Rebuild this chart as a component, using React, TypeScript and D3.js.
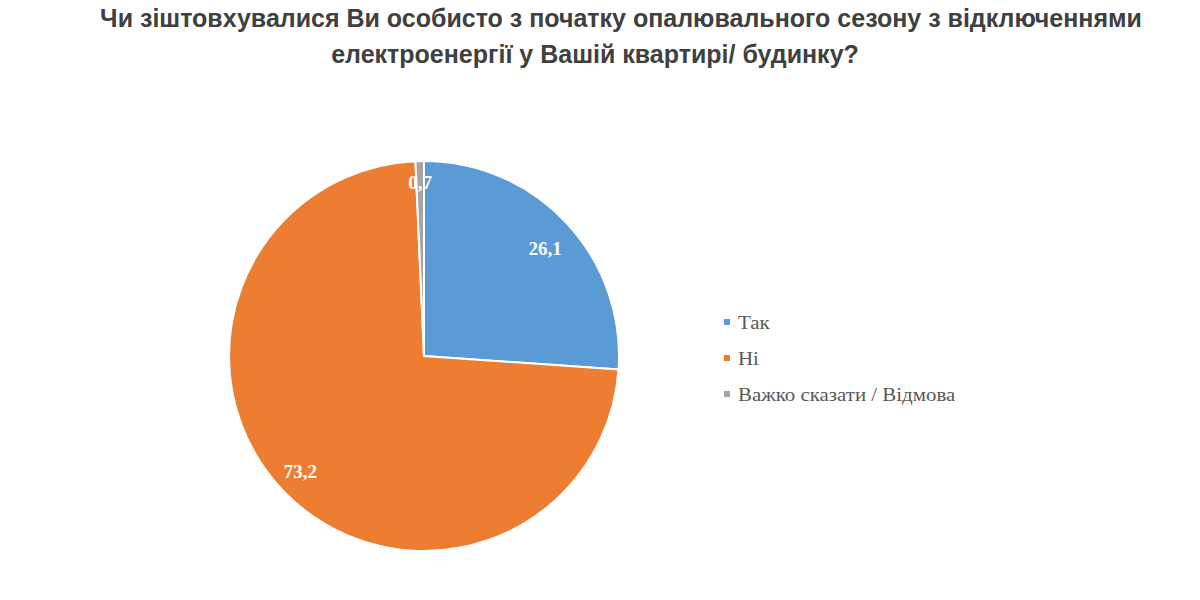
import { useEffect, useRef } from 'react';
import * as d3 from 'd3';

const titleLines = [
  'Чи зіштовхувалися Ви особисто з початку опалювального сезону з відключеннями',
  'електроенергії у Вашій квартирі/ будинку?',
];
const categories = ['Так', 'Ні', 'Важко сказати / Відмова'];
const values = [26.1, 73.2, 0.7];
const colors = ['#5b9bd5', '#ed7d31', '#a5a5a5'];

export default function App() {
  const svgRef = useRef<SVGSVGElement | null>(null);

  useEffect(() => {
    if (!svgRef.current) return;
    const svg = d3.select(svgRef.current);
    svg.selectAll('*').remove();

    const width = 1200;
    const height = 600;
    svg.attr('width', width).attr('height', height);

    svg.append('rect').attr('width', width).attr('height', height).attr('fill', '#fff');

    // Title (second line sits a bit left of the first one in the original)
    const titleX = [621, 595];
    const titleY = [27, 63];
    svg.append('g')
      .selectAll('text')
      .data(titleLines)
      .enter()
      .append('text')
      .attr('x', (_, i) => titleX[i])
      .attr('y', (_, i) => titleY[i])
      .attr('text-anchor', 'middle')
      .attr('font-family', '"Liberation Sans", Arial, sans-serif')
      .attr('font-weight', 'bold')
      .attr('font-size', 25)
      .attr('fill', '#404040')
      .text(d => d);

    // Pie
    const cx = 424;
    const cy = 356;
    const radius = 195;

    const data = categories.map((c, i) => ({ name: c, value: values[i], color: colors[i] }));
    type D = typeof data[number];

    const pie = d3.pie<D>().sort(null).value(d => d.value);
    const arcs = pie(data);
    const arc = d3.arc<d3.PieArcDatum<D>>().innerRadius(0).outerRadius(radius);
    const labelArc = d3.arc<d3.PieArcDatum<D>>().innerRadius(radius * 0.85).outerRadius(radius * 0.85);
    const labelArcIn = d3.arc<d3.PieArcDatum<D>>().innerRadius(radius * 0.89).outerRadius(radius * 0.89);

    const g = svg.append('g').attr('transform', `translate(${cx},${cy})`);

    g.selectAll('path')
      .data(arcs)
      .enter()
      .append('path')
      .attr('d', arc)
      .attr('fill', d => d.data.color)
      .attr('stroke', '#fff')
      .attr('stroke-width', 2);

    g.selectAll('text')
      .data(arcs)
      .enter()
      .append('text')
      .attr('transform', (d, i) => {
        const [x, y] = i === 2 ? labelArcIn.centroid(d) : labelArc.centroid(d);
        const dx = i === 1 ? -5 : 0;
        const dy = i === 0 ? 5 : 0;
        return `translate(${x + dx},${y + dy})`;
      })
      .attr('text-anchor', 'middle')
      .attr('dy', '0.35em')
      .attr('font-family', '"Liberation Serif", "Times New Roman", serif')
      .attr('font-weight', 'bold')
      .attr('font-size', 19)
      .attr('fill', '#fff')
      .text(d => d3.format('.1f')(d.data.value).replace('.', ','));

    // Legend
    const legend = svg.append('g').attr('transform', 'translate(724,322)');
    const items = legend.selectAll('g')
      .data(data)
      .enter()
      .append('g')
      .attr('transform', (_, i) => `translate(0,${i * 36})`);
    items.append('rect')
      .attr('x', 0)
      .attr('y', -3)
      .attr('width', 6)
      .attr('height', 6)
      .attr('fill', d => d.color);
    items.append('text')
      .attr('transform', 'translate(14,0) scale(1.1,1)')
      .attr('dy', '0.35em')
      .attr('font-family', '"Liberation Serif", "Times New Roman", serif')
      .attr('font-size', 19)
      .attr('fill', '#595959')
      .text(d => d.name);
  }, []);

  return (
    <div style={{ position: 'absolute', left: 0, top: 0 }}>
      <svg ref={svgRef} style={{ display: 'block' }} />
    </div>
  );
}
